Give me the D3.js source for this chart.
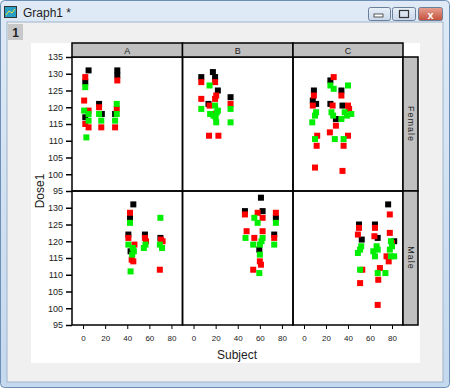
<!DOCTYPE html>
<html>
<head>
<meta charset="utf-8">
<script src="https://cdn.jsdelivr.net/npm/d3@7"></script>
<style>
  body { margin: 0; background: #fff; }
  text { font-family: "Liberation Sans", Arial, sans-serif; }
</style>
</head>
<body>
<script>
// panels and tick values
var columns = ["A", "B", "C"];
var rows = ["Female", "Male"];
var xTicks = [0, 20, 40, 60, 80];
var yTicks = [95, 100, 105, 110, 115, 120, 125, 130, 135];

// [Subject, Dose1] per panel and per series (black, red, green)
var femaleA_black = [[5,131],[2,127.5],[14.5,121],[2,117],[17,118],[29,118],[31,131],[31,129.5]];
var femaleA_red = [[2,129],[1,122],[14.5,120],[5,119],[2,115],[5,114],[16.5,114],[31,128],[30.5,119.5],[29,114]];
var femaleA_green = [[2,126],[1,119],[5,118],[14.5,118],[5,116],[3,111],[16.5,116],[30.5,121],[30.5,118],[29,116]];

var femaleB_black = [[17.5,130.5],[7,129],[19.5,129],[22,125],[13.5,121],[33.5,123]];
var femaleB_red = [[7,127.5],[19.5,127.5],[20.5,123.5],[7,122.5],[19.5,122.5],[33.5,121],[14.5,120.5],[19,118],[14,111.5],[22.5,111.5]];
var femaleB_green = [[14.5,126.5],[7,119.5],[19.5,120.5],[33.5,119.5],[15,118],[21,118.5],[18,117.5],[20,117],[22,119],[20.5,115.5],[33.5,115.5]];

var femaleC_black = [[24,128],[9,125],[34,125],[8,122],[11,121],[24,121],[35,120.5],[29,116.5]];
var femaleC_red = [[27,129],[9,123.5],[34,123.5],[8,120.5],[26,120.5],[40,120.5],[41,119.5],[29,114.5],[23.5,112.5],[12,111.5],[40,111.5],[11.5,108.5],[36,108.5],[10,102],[35,101]];
var femaleC_green = [[24,126.5],[27,125.5],[40,126.5],[11,118.5],[10,117.5],[7.5,115.5],[25,118.5],[26.5,117.5],[37,118.5],[39,117.5],[34,116.5],[43,118],[10,110.5],[28,110.5],[36,110.5]];

var maleA_black = [[45.5,131],[42.5,127],[41,122],[56,122],[70,121],[43,117]];
var maleA_red = [[42.5,128.5],[41,121],[56,121],[57,120],[70.5,120.5],[72,120],[46.5,119],[44,114.5],[45.5,114],[69.5,111.5]];
var maleA_green = [[42.5,125.5],[41,119],[56.5,119],[55,118],[69.5,119],[71.5,118],[70,127],[45,118],[44.5,116],[46,117],[43,111]];

var maleB_black = [[61,133],[46.5,129],[62.5,129],[74.5,127],[73,122],[59.5,117.5]];
var maleB_red = [[46.5,128],[58,128.5],[62.5,127],[74.5,128.5],[48,123],[62.5,123],[55,121],[73,121],[60,114],[61,113],[54,111.5]];
var maleB_green = [[55,127],[58,125.5],[74.5,125.5],[47,121],[62.5,121],[61.5,120],[54,119],[60,119],[73,119],[60,116],[59.5,110.5]];

var maleC_black = [[76.5,131],[50,125],[64.5,125],[52.5,120.5],[67,121],[82,120]];
var maleC_red = [[78,128],[50,124],[64.5,124],[49,122],[64,121.5],[78,122.5],[80,119.5],[77,114],[75,115.5],[53,111.5],[69,112],[51,107.5],[67.5,108.5],[67,101]];
var maleC_green = [[52,118.5],[51,117.5],[49,116.5],[66,118.5],[63,117],[64.5,115.5],[67,117.5],[79,120],[80,118.5],[78,117.5],[79,115.5],[82,115.5],[51,111.5],[67,110.5],[74,110.5]];

var seriesColors = ["#000000", "#ff0000", "#00ee00"];

var panelData = [
    [[femaleA_black, femaleA_red, femaleA_green], [femaleB_black, femaleB_red, femaleB_green], [femaleC_black, femaleC_red, femaleC_green]],
    [[maleA_black, maleA_red, maleA_green], [maleB_black, maleB_red, maleB_green], [maleC_black, maleC_red, maleC_green]]
];

var w = 450, h = 388;
var svg = d3.select("body").append("svg")
    .attr("width", w)
    .attr("height", h);

// ---- window chrome ----
var grad = svg.append("defs").append("linearGradient")
    .attr("id", "tbar").attr("x1", 0).attr("y1", 0).attr("x2", 0).attr("y2", 1);
grad.append("stop").attr("offset", "0%").attr("stop-color", "#dfeaf6");
grad.append("stop").attr("offset", "100%").attr("stop-color", "#c4d8ee");

svg.append("rect").attr("x", 0.5).attr("y", 0.5).attr("width", w - 1).attr("height", h - 1)
    .attr("rx", 4).style("fill", "url(#tbar)").style("stroke", "#6d8fb5");
svg.append("rect").attr("x", 7).attr("y", 22).attr("width", 436).attr("height", 360)
    .style("fill", "#f0f0f0").style("stroke", "#a0b4cc");

// title icon
svg.append("rect").attr("x", 4.5).attr("y", 6.5).attr("width", 12).attr("height", 11)
    .style("fill", "#2a9fc4").style("stroke", "#333");
svg.append("path").attr("d", "M6,15 L9,11 L12,13 L15,9").style("fill", "none").style("stroke", "#f0e040").style("stroke-width", 1);
svg.append("text").attr("x", 23).attr("y", 17).style("font-size", "12px").style("fill", "#1e1e1e").text("Graph1 *");

// title buttons
var btns = [{x: 368, w: 22, c1: "#e9f0f8", c2: "#c9d8ea"}, {x: 392, w: 23, c1: "#e9f0f8", c2: "#c9d8ea"}, {x: 418, w: 24, c1: "#e8a090", c2: "#c4503c"}];
btns.forEach(function(b, i){
    var g = svg.append("defs").append("linearGradient").attr("id", "bt" + i)
        .attr("x1", 0).attr("y1", 0).attr("x2", 0).attr("y2", 1);
    g.append("stop").attr("offset", "0%").attr("stop-color", b.c1);
    g.append("stop").attr("offset", "100%").attr("stop-color", b.c2);
    svg.append("rect").attr("x", b.x + 0.5).attr("y", 7.5).attr("width", b.w).attr("height", 13)
        .attr("rx", 2).style("fill", "url(#bt" + i + ")").style("stroke", "#6a7f99");
});
svg.append("rect").attr("x", 374).attr("y", 14).attr("width", 9).attr("height", 3)
    .style("fill", "#fff").style("stroke", "#333").style("stroke-width", 0.8);
svg.append("rect").attr("x", 399.5).attr("y", 10.5).attr("width", 9).attr("height", 7)
    .style("fill", "none").style("stroke", "#333").style("stroke-width", 1.2);
svg.append("text").attr("x", 430.5).attr("y", 18.5).attr("text-anchor", "middle")
    .style("font-size", "11px").style("font-weight", "bold").style("fill", "#fff").text("x");

// tab
svg.append("rect").attr("x", 8).attr("y", 24).attr("width", 15).attr("height", 16).style("fill", "#c8c8c8");
svg.append("text").attr("x", 15.5).attr("y", 37).attr("text-anchor", "middle")
    .style("font-size", "12px").style("font-weight", "bold").style("fill", "#222").text("1");

// white page
svg.append("rect").attr("x", 31).attr("y", 43).attr("width", 389).attr("height", 320).style("fill", "#fff");

// ---- plot ----
var colEdges = [72, 182.5, 293, 403];
var rowEdges = [57, 191, 325];

var xScales = columns.map(function(c, i){
    return d3.scaleLinear().domain([-10, 90]).range([colEdges[i], colEdges[i + 1]]);
});
var yScales = rows.map(function(r, i){
    return d3.scaleLinear().domain([95, 135]).range([rowEdges[i + 1], rowEdges[i]]);
});

// points
rows.forEach(function(r, ri){
    columns.forEach(function(c, ci){
        var x = xScales[ci], y = yScales[ri];
        panelData[ri][ci].forEach(function(series, si){
            svg.append("g").selectAll("rect")
                .data(series)
                .enter()
                .append("rect")
                .attr("x", function(d){ return x(d[0]) - 3; })
                .attr("y", function(d){ return y(d[1]) - 3; })
                .attr("width", 6)
                .attr("height", 6)
                .style("fill", seriesColors[si]);
        });
    });
});

// panel frames
rows.forEach(function(r, ri){
    columns.forEach(function(c, ci){
        svg.append("rect")
            .attr("x", colEdges[ci]).attr("y", rowEdges[ri])
            .attr("width", colEdges[ci + 1] - colEdges[ci])
            .attr("height", rowEdges[ri + 1] - rowEdges[ri])
            .style("fill", "none").style("stroke", "#000").style("stroke-width", 1.5);
    });
});

// top strips
columns.forEach(function(c, ci){
    svg.append("rect")
        .attr("x", colEdges[ci]).attr("y", 43)
        .attr("width", colEdges[ci + 1] - colEdges[ci]).attr("height", 14)
        .style("fill", "#c0c0c0").style("stroke", "#000").style("stroke-width", 1.5);
    svg.append("text")
        .attr("x", (colEdges[ci] + colEdges[ci + 1]) / 2).attr("y", 53.5)
        .attr("text-anchor", "middle").style("font-size", "9px").style("fill", "#222")
        .text(c);
});

// right strips
rows.forEach(function(r, ri){
    svg.append("rect")
        .attr("x", 403).attr("y", rowEdges[ri])
        .attr("width", 15).attr("height", rowEdges[ri + 1] - rowEdges[ri])
        .style("fill", "#c0c0c0").style("stroke", "#000").style("stroke-width", 1.5);
    var cy = (rowEdges[ri] + rowEdges[ri + 1]) / 2;
    svg.append("text")
        .attr("transform", "translate(407.5," + cy + ") rotate(90)")
        .attr("text-anchor", "middle").style("font-size", "9px").style("fill", "#222")
        .style("letter-spacing", "1px")
        .text(r);
});

// y axes
rows.forEach(function(r, ri){
    var ticks = ri === 0 ? yTicks : yTicks.slice(0, yTicks.length - 1);
    var ax = svg.append("g")
        .attr("transform", "translate(72,0)")
        .call(d3.axisLeft(yScales[ri]).tickValues(ticks).tickSize(6).tickPadding(3));
    ax.select(".domain").remove();
    ax.selectAll("line").style("stroke-width", 1.5);
    ax.selectAll("text").style("font-size", "9px").style("fill", "#222")
        .style("font-family", "'Liberation Sans', Arial, sans-serif");
});

// x axes
columns.forEach(function(c, ci){
    var ax = svg.append("g")
        .attr("transform", "translate(0,325)")
        .call(d3.axisBottom(xScales[ci]).tickValues(xTicks).tickSize(4).tickPadding(6));
    ax.select(".domain").remove();
    ax.selectAll("line").style("stroke-width", 1);
    ax.selectAll("text").style("font-size", "8px").style("fill", "#222")
        .style("font-family", "'Liberation Sans', Arial, sans-serif");
});

// axis titles
svg.append("text")
    .attr("x", 237).attr("y", 359)
    .attr("text-anchor", "middle").style("font-size", "12px").style("fill", "#222")
    .text("Subject");
svg.append("text")
    .attr("transform", "translate(44,191) rotate(-90)")
    .attr("text-anchor", "middle").style("font-size", "12px").style("fill", "#222")
    .text("Dose1");
</script>
</body>
</html>
